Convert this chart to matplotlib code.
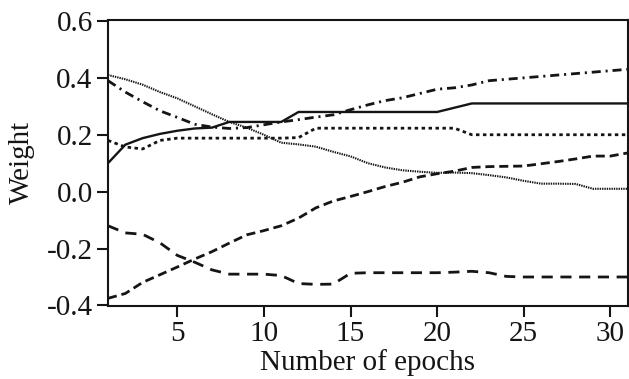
import matplotlib
matplotlib.use("Agg")
import matplotlib.pyplot as plt

epochs = [1, 2, 3, 4, 5, 6, 7, 8, 9, 10, 11, 12, 13, 14, 15, 16,
          17, 18, 19, 20, 21, 22, 23, 24, 25, 26, 27, 28, 29, 30, 31]

solid = [0.10, 0.165, 0.188, 0.203, 0.214, 0.222, 0.225, 0.245, 0.245, 0.245, 0.245,
         0.28, 0.28, 0.28, 0.28, 0.28, 0.28, 0.28, 0.28, 0.28,
         0.295, 0.31, 0.31, 0.31, 0.31, 0.31, 0.31, 0.31, 0.31, 0.31, 0.31]

dashdot = [0.39, 0.35, 0.316, 0.284, 0.261, 0.237, 0.227, 0.222, 0.225, 0.235, 0.245,
           0.253, 0.262, 0.27, 0.288, 0.305, 0.32, 0.33, 0.345, 0.36, 0.365,
           0.375, 0.39, 0.395, 0.40, 0.405, 0.41, 0.415, 0.42, 0.425, 0.43]

fine_dotted = [0.41, 0.395, 0.376, 0.35, 0.328, 0.30, 0.272, 0.245, 0.225, 0.20, 0.172,
               0.166, 0.158, 0.14, 0.124, 0.10, 0.085, 0.075, 0.07, 0.066, 0.067,
               0.065, 0.058, 0.05, 0.038, 0.028, 0.028, 0.027, 0.01, 0.01, 0.01]

sparse_dotted = [0.18, 0.157, 0.15, 0.18, 0.188, 0.188, 0.188, 0.188, 0.188, 0.188, 0.188,
                 0.19, 0.223, 0.223, 0.223, 0.223, 0.223, 0.223, 0.223, 0.223, 0.223,
                 0.20, 0.20, 0.20, 0.20, 0.20, 0.20, 0.20, 0.20, 0.20, 0.20]

rising_dashed = [-0.375, -0.358, -0.319, -0.292, -0.265, -0.237, -0.211, -0.181, -0.152,
                 -0.137, -0.12, -0.093, -0.057, -0.033, -0.017, 0.0, 0.018, 0.033, 0.052,
                 0.063, 0.072, 0.085, 0.088, 0.089, 0.09, 0.098, 0.106, 0.115, 0.125,
                 0.125, 0.136]

falling_dashed = [-0.12, -0.145, -0.15, -0.18, -0.224, -0.248, -0.275, -0.29, -0.29, -0.29,
                  -0.295, -0.323, -0.326, -0.325, -0.287, -0.285, -0.285, -0.285, -0.285,
                  -0.285, -0.283, -0.28, -0.285, -0.298, -0.30, -0.30, -0.30, -0.30,
                  -0.30, -0.30, -0.30]

xticks = [5, 10, 15, 20, 25, 30]
xtick_labels = ["5", "10", "15", "20", "25", "30"]
yticks = [-0.4, -0.2, 0.0, 0.2, 0.4, 0.6]
ytick_labels = ["-0.4", "-0.2", "0.0", "0.2", "0.4", "0.6"]

plt.rcParams['font.family'] = ['Liberation Serif', 'DejaVu Serif']
plt.rcParams['lines.scale_dashes'] = False

fig = plt.figure(figsize=(6.29, 3.79), dpi=100)
ax = fig.add_axes([0.1717, 0.1926, 0.8262, 0.7559])

ink = '#151515'
ax.plot(epochs, solid, color=ink, lw=1.7, linestyle='-')
ax.plot(epochs, dashdot, color=ink, lw=2.0, linestyle=(0, (6.5, 3.5, 1.5, 3.5)))
ax.plot(epochs, fine_dotted, color=ink, lw=1.5, linestyle=(0, (1.0, 0.7)))
ax.plot(epochs, sparse_dotted, color=ink, lw=2.0, linestyle=(0, (2.5, 2.5)))
ax.plot(epochs, rising_dashed, color=ink, lw=2.0, linestyle=(0, (6.5, 3.5)))
ax.plot(epochs, falling_dashed, color=ink, lw=2.0, linestyle=(0, (8, 5.5)))

ax.set_xlim(1, 31)
ax.set_ylim(-0.402, 0.605)
ax.set_xticks(xticks)
ax.set_xticklabels(xtick_labels)
ax.set_yticks(yticks)
ax.set_yticklabels(ytick_labels)

for s in ax.spines.values():
    s.set_linewidth(1.5)
    s.set_color(ink)
ax.tick_params(direction='out', length=8, width=1.5, labelsize=21, colors=ink, pad=3)

ax.set_xlabel("Number of epochs", fontsize=21, color=ink)
ax.set_ylabel("Weight", fontsize=21, color=ink)
ax.xaxis.set_label_coords(0.5, -0.15)
ax.yaxis.set_label_coords(-0.14, 0.5)

fig.savefig("out.png", dpi=100, facecolor='white')
